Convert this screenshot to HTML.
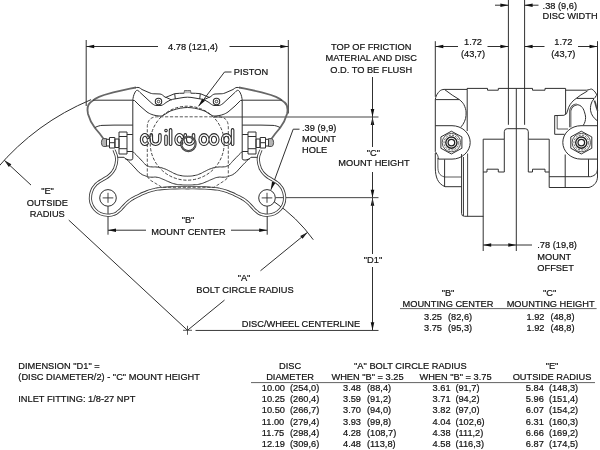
<!DOCTYPE html>
<html><head><meta charset="utf-8"><title>Caliper Drawing</title>
<style>
html,body{margin:0;padding:0;background:#fff;}
body{width:600px;height:450px;overflow:hidden;font-family:"Liberation Sans",sans-serif;}
svg{display:block;will-change:transform;}
svg text{font-family:"Liberation Sans",sans-serif;fill:#111;stroke:#111;stroke-width:0.2px;white-space:pre;}
</style></head><body>
<svg width="600" height="450" viewBox="0 0 600 450">
<rect x="0" y="0" width="600" height="450" fill="#ffffff"/>
<text x="18.30" y="368.90" text-anchor="start" font-size="9.25">DIMENSION &quot;D1&quot; =</text>
<text x="18.30" y="380.20" text-anchor="start" font-size="9.25">(DISC DIAMETER/2) - &quot;C&quot; MOUNT HEIGHT</text>
<text x="18.30" y="402.20" text-anchor="start" font-size="9.25">INLET FITTING: 1/8-27 NPT</text>
<text x="290.10" y="368.80" text-anchor="middle" font-size="9.25">DISC</text>
<text x="290.10" y="380.20" text-anchor="middle" font-size="9.25">DIAMETER</text>
<text x="410.40" y="368.80" text-anchor="middle" font-size="9.25">&quot;A&quot; BOLT CIRCLE RADIUS</text>
<text x="367.50" y="380.20" text-anchor="middle" font-size="9.25">WHEN &quot;B&quot; = 3.25</text>
<text x="455.50" y="380.20" text-anchor="middle" font-size="9.25">WHEN &quot;B&quot; = 3.75</text>
<text x="552.00" y="368.80" text-anchor="middle" font-size="9.25">&quot;E&quot;</text>
<text x="552.00" y="380.20" text-anchor="middle" font-size="9.25">OUTSIDE RADIUS</text>
<line x1="251.00" y1="382.60" x2="595.00" y2="382.60" stroke="#3a3a3a" stroke-width="0.8" />
<text x="261.80" y="390.90" text-anchor="start" font-size="9.25">10.00</text>
<text x="290.00" y="390.90" text-anchor="start" font-size="9.25">(254,0)</text>
<text x="343.00" y="390.90" text-anchor="start" font-size="9.25">3.48</text>
<text x="367.00" y="390.90" text-anchor="start" font-size="9.25">(88,4)</text>
<text x="432.60" y="390.90" text-anchor="start" font-size="9.25">3.61</text>
<text x="455.40" y="390.90" text-anchor="start" font-size="9.25">(91,7)</text>
<text x="525.80" y="390.90" text-anchor="start" font-size="9.25">5.84</text>
<text x="548.90" y="390.90" text-anchor="start" font-size="9.25">(148,3)</text>
<text x="261.80" y="402.12" text-anchor="start" font-size="9.25">10.25</text>
<text x="290.00" y="402.12" text-anchor="start" font-size="9.25">(260,4)</text>
<text x="343.00" y="402.12" text-anchor="start" font-size="9.25">3.59</text>
<text x="367.00" y="402.12" text-anchor="start" font-size="9.25">(91,2)</text>
<text x="432.60" y="402.12" text-anchor="start" font-size="9.25">3.71</text>
<text x="455.40" y="402.12" text-anchor="start" font-size="9.25">(94,2)</text>
<text x="525.80" y="402.12" text-anchor="start" font-size="9.25">5.96</text>
<text x="548.90" y="402.12" text-anchor="start" font-size="9.25">(151,4)</text>
<text x="261.80" y="413.34" text-anchor="start" font-size="9.25">10.50</text>
<text x="290.00" y="413.34" text-anchor="start" font-size="9.25">(266,7)</text>
<text x="343.00" y="413.34" text-anchor="start" font-size="9.25">3.70</text>
<text x="367.00" y="413.34" text-anchor="start" font-size="9.25">(94,0)</text>
<text x="432.60" y="413.34" text-anchor="start" font-size="9.25">3.82</text>
<text x="455.40" y="413.34" text-anchor="start" font-size="9.25">(97,0)</text>
<text x="525.80" y="413.34" text-anchor="start" font-size="9.25">6.07</text>
<text x="548.90" y="413.34" text-anchor="start" font-size="9.25">(154,2)</text>
<text x="261.80" y="424.56" text-anchor="start" font-size="9.25">11.00</text>
<text x="290.00" y="424.56" text-anchor="start" font-size="9.25">(279,4)</text>
<text x="343.00" y="424.56" text-anchor="start" font-size="9.25">3.93</text>
<text x="367.00" y="424.56" text-anchor="start" font-size="9.25">(99,8)</text>
<text x="432.60" y="424.56" text-anchor="start" font-size="9.25">4.04</text>
<text x="455.40" y="424.56" text-anchor="start" font-size="9.25">(102,6)</text>
<text x="525.80" y="424.56" text-anchor="start" font-size="9.25">6.31</text>
<text x="548.90" y="424.56" text-anchor="start" font-size="9.25">(160,3)</text>
<text x="261.80" y="435.78" text-anchor="start" font-size="9.25">11.75</text>
<text x="290.00" y="435.78" text-anchor="start" font-size="9.25">(298,4)</text>
<text x="343.00" y="435.78" text-anchor="start" font-size="9.25">4.28</text>
<text x="367.00" y="435.78" text-anchor="start" font-size="9.25">(108,7)</text>
<text x="432.60" y="435.78" text-anchor="start" font-size="9.25">4.38</text>
<text x="455.40" y="435.78" text-anchor="start" font-size="9.25">(111,2)</text>
<text x="525.80" y="435.78" text-anchor="start" font-size="9.25">6.66</text>
<text x="548.90" y="435.78" text-anchor="start" font-size="9.25">(169,2)</text>
<text x="261.80" y="447.00" text-anchor="start" font-size="9.25">12.19</text>
<text x="290.00" y="447.00" text-anchor="start" font-size="9.25">(309,6)</text>
<text x="343.00" y="447.00" text-anchor="start" font-size="9.25">4.48</text>
<text x="367.00" y="447.00" text-anchor="start" font-size="9.25">(113,8)</text>
<text x="432.60" y="447.00" text-anchor="start" font-size="9.25">4.58</text>
<text x="455.40" y="447.00" text-anchor="start" font-size="9.25">(116,3)</text>
<text x="525.80" y="447.00" text-anchor="start" font-size="9.25">6.87</text>
<text x="548.90" y="447.00" text-anchor="start" font-size="9.25">(174,5)</text>
<text x="448.00" y="296.00" text-anchor="middle" font-size="9.25">&quot;B&quot;</text>
<text x="448.00" y="307.00" text-anchor="middle" font-size="9.25">MOUNTING CENTER</text>
<text x="549.60" y="296.00" text-anchor="middle" font-size="9.25">&quot;C&quot;</text>
<text x="550.60" y="307.00" text-anchor="middle" font-size="9.25">MOUNTING HEIGHT</text>
<line x1="400.00" y1="308.60" x2="596.60" y2="308.60" stroke="#3a3a3a" stroke-width="0.8" />
<text x="424.00" y="320.30" text-anchor="start" font-size="9.25">3.25</text>
<text x="448.00" y="320.30" text-anchor="start" font-size="9.25">(82,6)</text>
<text x="526.50" y="320.30" text-anchor="start" font-size="9.25">1.92</text>
<text x="550.40" y="320.30" text-anchor="start" font-size="9.25">(48,8)</text>
<text x="424.00" y="331.10" text-anchor="start" font-size="9.25">3.75</text>
<text x="448.00" y="331.10" text-anchor="start" font-size="9.25">(95,3)</text>
<text x="526.50" y="331.10" text-anchor="start" font-size="9.25">1.92</text>
<text x="550.40" y="331.10" text-anchor="start" font-size="9.25">(48,8)</text>
<text x="193.00" y="49.80" text-anchor="middle" font-size="9.25">4.78 (121,4)</text>
<text x="233.80" y="75.20" text-anchor="start" font-size="9.25">PISTON</text>
<text x="371.20" y="50.00" text-anchor="middle" font-size="9.25">TOP OF FRICTION</text>
<text x="371.20" y="61.30" text-anchor="middle" font-size="9.25">MATERIAL AND DISC</text>
<text x="371.20" y="72.60" text-anchor="middle" font-size="9.25">O.D. TO BE FLUSH</text>
<text x="302.00" y="131.20" text-anchor="start" font-size="9.25">.39 (9,9)</text>
<text x="302.00" y="142.20" text-anchor="start" font-size="9.25">MOUNT</text>
<text x="302.00" y="153.20" text-anchor="start" font-size="9.25">HOLE</text>
<text x="373.30" y="155.50" text-anchor="middle" font-size="9.25">&quot;C&quot;</text>
<text x="374.00" y="166.40" text-anchor="middle" font-size="9.25">MOUNT HEIGHT</text>
<text x="47.50" y="194.20" text-anchor="middle" font-size="9.25">&quot;E&quot;</text>
<text x="47.30" y="206.00" text-anchor="middle" font-size="9.25">OUTSIDE</text>
<text x="47.30" y="216.80" text-anchor="middle" font-size="9.25">RADIUS</text>
<text x="188.00" y="223.30" text-anchor="middle" font-size="9.25">&quot;B&quot;</text>
<text x="188.50" y="234.50" text-anchor="middle" font-size="9.25">MOUNT CENTER</text>
<text x="244.00" y="281.00" text-anchor="middle" font-size="9.25">&quot;A&quot;</text>
<text x="245.00" y="293.30" text-anchor="middle" font-size="9.25">BOLT CIRCLE RADIUS</text>
<text x="373.00" y="262.50" text-anchor="middle" font-size="9.25">&quot;D1&quot;</text>
<text x="241.80" y="327.00" text-anchor="start" font-size="9.25">DISC/WHEEL CENTERLINE</text>
<text x="542.60" y="8.60" text-anchor="start" font-size="9.25">.38 (9,6)</text>
<text x="542.60" y="19.40" text-anchor="start" font-size="9.25">DISC WIDTH</text>
<text x="473.00" y="44.70" text-anchor="middle" font-size="9.25">1.72</text>
<text x="473.00" y="57.00" text-anchor="middle" font-size="9.25">(43,7)</text>
<text x="563.30" y="44.70" text-anchor="middle" font-size="9.25">1.72</text>
<text x="563.30" y="57.00" text-anchor="middle" font-size="9.25">(43,7)</text>
<text x="537.30" y="248.20" text-anchor="start" font-size="9.25">.78 (19,8)</text>
<text x="537.30" y="259.60" text-anchor="start" font-size="9.25">MOUNT</text>
<text x="537.30" y="270.80" text-anchor="start" font-size="9.25">OFFSET</text>
<line x1="86.20" y1="40.00" x2="86.20" y2="106.00" stroke="#303030" stroke-width="1.0" />
<line x1="288.30" y1="40.00" x2="288.30" y2="113.50" stroke="#303030" stroke-width="1.0" />
<line x1="86.20" y1="46.50" x2="158.00" y2="46.50" stroke="#303030" stroke-width="1.0" />
<line x1="229.50" y1="46.50" x2="288.30" y2="46.50" stroke="#303030" stroke-width="1.0" />
<polygon points="86.20,46.50 94.20,44.70 94.20,48.30" fill="#111"/>
<polygon points="288.30,46.50 280.30,48.30 280.30,44.70" fill="#111"/>
<path d="M231.5 72 L224.5 72 L198.5 106.3" stroke="#303030" stroke-width="1.0" fill="none" />
<polygon points="198.50,106.30 202.27,98.47 205.12,100.67" fill="#111"/>
<line x1="372.50" y1="77.00" x2="372.50" y2="117.00" stroke="#303030" stroke-width="1.0" />
<polygon points="372.50,117.00 370.70,109.00 374.30,109.00" fill="#111"/>
<polygon points="372.50,117.00 374.30,125.00 370.70,125.00" fill="#111"/>
<line x1="372.50" y1="117.00" x2="372.50" y2="147.00" stroke="#303030" stroke-width="1.0" />
<line x1="372.50" y1="172.00" x2="372.50" y2="197.80" stroke="#303030" stroke-width="1.0" />
<polygon points="372.50,197.80 370.70,189.80 374.30,189.80" fill="#111"/>
<polygon points="372.50,197.80 374.30,205.80 370.70,205.80" fill="#111"/>
<line x1="372.50" y1="197.80" x2="372.50" y2="254.00" stroke="#303030" stroke-width="1.0" />
<line x1="372.50" y1="267.00" x2="372.50" y2="330.30" stroke="#303030" stroke-width="1.0" />
<polygon points="372.50,330.30 370.70,322.30 374.30,322.30" fill="#111"/>
<line x1="213.50" y1="117.00" x2="378.50" y2="117.00" stroke="#3c3c3c" stroke-width="0.95" />
<line x1="275.60" y1="197.65" x2="378.50" y2="197.65" stroke="#444" stroke-width="1.0" />
<line x1="195.50" y1="330.45" x2="378.50" y2="330.45" stroke="#3a3a3a" stroke-width="1.0" />
<line x1="183.00" y1="330.30" x2="192.00" y2="330.30" stroke="#303030" stroke-width="0.8" />
<line x1="187.50" y1="325.80" x2="187.50" y2="334.80" stroke="#303030" stroke-width="0.8" />
<path d="M-2.89 168.27 A250 250 0 0 1 91.06 99.65" stroke="#303030" stroke-width="1.0" fill="none" />
<polygon points="4.26,160.24 11.34,164.36 8.89,167.00" fill="#111"/>
<line x1="4.26" y1="160.24" x2="31.01" y2="185.07" stroke="#303030" stroke-width="1.0" />
<line x1="68.76" y1="220.10" x2="187.50" y2="330.30" stroke="#303030" stroke-width="1.0" />
<path d="M274.05 201.72 A155 155 0 0 1 313.29 239.73" stroke="#303030" stroke-width="1.0" fill="none" />
<polygon points="307.61,232.32 302.54,238.77 300.27,235.98" fill="#111"/>
<line x1="307.61" y1="232.32" x2="260.49" y2="270.75" stroke="#303030" stroke-width="1.0" />
<line x1="224.54" y1="300.08" x2="187.50" y2="330.30" stroke="#303030" stroke-width="1.0" />
<line x1="108.00" y1="206.20" x2="108.00" y2="234.70" stroke="#303030" stroke-width="1.0" />
<line x1="267.20" y1="206.20" x2="267.20" y2="234.70" stroke="#303030" stroke-width="1.0" />
<line x1="108.00" y1="230.20" x2="146.00" y2="230.20" stroke="#303030" stroke-width="1.0" />
<line x1="231.00" y1="230.20" x2="267.20" y2="230.20" stroke="#303030" stroke-width="1.0" />
<polygon points="108.00,230.20 116.00,228.40 116.00,232.00" fill="#111"/>
<polygon points="267.20,230.20 259.20,232.00 259.20,228.40" fill="#111"/>
<path d="M299.5 129.2 L293.2 129.2 L270.9 189.8" stroke="#303030" stroke-width="1.0" fill="none" />
<polygon points="270.90,189.80 271.97,181.67 275.35,182.91" fill="#111"/>
<line x1="435.30" y1="41.20" x2="435.30" y2="96.80" stroke="#303030" stroke-width="1.0" />
<line x1="597.50" y1="41.20" x2="597.50" y2="99.00" stroke="#303030" stroke-width="1.0" />
<line x1="508.40" y1="0.00" x2="508.40" y2="124.80" stroke="#303030" stroke-width="1.0" />
<line x1="524.60" y1="0.00" x2="524.60" y2="124.80" stroke="#303030" stroke-width="1.0" />
<line x1="435.30" y1="46.50" x2="458.00" y2="46.50" stroke="#303030" stroke-width="1.0" />
<line x1="487.50" y1="46.50" x2="508.40" y2="46.50" stroke="#303030" stroke-width="1.0" />
<polygon points="435.30,46.50 443.30,44.70 443.30,48.30" fill="#111"/>
<polygon points="508.40,46.50 500.40,48.30 500.40,44.70" fill="#111"/>
<line x1="524.60" y1="46.50" x2="544.50" y2="46.50" stroke="#303030" stroke-width="1.0" />
<line x1="578.00" y1="46.50" x2="597.50" y2="46.50" stroke="#303030" stroke-width="1.0" />
<polygon points="524.60,46.50 532.60,44.70 532.60,48.30" fill="#111"/>
<polygon points="597.50,46.50 589.50,48.30 589.50,44.70" fill="#111"/>
<line x1="495.00" y1="5.20" x2="508.40" y2="5.20" stroke="#303030" stroke-width="1.0" />
<polygon points="508.40,5.20 500.40,7.00 500.40,3.40" fill="#111"/>
<line x1="524.60" y1="5.20" x2="538.50" y2="5.20" stroke="#303030" stroke-width="1.0" />
<polygon points="524.60,5.20 532.60,3.40 532.60,7.00" fill="#111"/>
<line x1="483.20" y1="216.00" x2="483.20" y2="251.00" stroke="#303030" stroke-width="1.0" />
<line x1="516.30" y1="88.30" x2="516.30" y2="251.00" stroke="#303030" stroke-width="1.0" />
<line x1="483.20" y1="245.00" x2="532.00" y2="245.00" stroke="#303030" stroke-width="1.0" />
<polygon points="483.20,245.00 491.20,243.20 491.20,246.80" fill="#111"/>
<polygon points="516.30,245.00 508.30,246.80 508.30,243.20" fill="#111"/>
<g>
<path d="M104 139.5 L100 134 L95 128 C92 124 89.5 119.5 88 114 C86.6 108 88 104.5 90.5 102.3 C93 100 96 98 99 96.8 L104 95 L113.3 92.3 L130 88.6 L136 87.5" stroke="#676767" stroke-width="1.8" fill="none" />
<path d="M135.5 87.7 C137 87.3 139 87.2 140.3 88.3 L142 89.5 L150 93 C152 93.8 153.5 93.8 155 93.8 L160 94 C161.5 94.2 162.3 94.8 163 95.5 L165.5 97.5 L174.6 93.7 C178 93.3 181 93.2 184.2 93.2 L184.5 90.6 L187.5 90.6" stroke="#303030" stroke-width="1.0" fill="none" />
<rect x="184.5" y="90.6" width="3.2" height="2.6" fill="#bbb"/>
<path d="M132.8 100.5 C133 97.5 133.7 94.8 134.7 93 C135.5 91.3 136.2 90.3 137.2 90.3 C138 90.3 138.8 91.2 139.6 92 L145 97 L152 103.5 C154 105 155 105.5 156 105.5 L161 105.5 C163 105 164.5 103.8 166 102.5 L170 100.2 C172 99.4 173.5 99.1 175 98.9 L184 97.4 L187.5 97.2" stroke="#303030" stroke-width="1.0" fill="none" />
<line x1="174.70" y1="93.80" x2="175.30" y2="99.00" stroke="#303030" stroke-width="1.0" />
<line x1="165.30" y1="97.00" x2="171.50" y2="99.90" stroke="#303030" stroke-width="1.0" />
<path d="M132.8 100.5 L134.5 100.5 L140 106 L147 112 C150 114 153 115.3 159 116 C161 116.1 162.5 115.8 163 115.5 L170 111.2 C174 109.6 179 108.2 184 107.7 L187.5 107.5" stroke="#303030" stroke-width="1.0" fill="none" />
<circle cx="158.50" cy="101.50" r="3.20" stroke="#303030" stroke-width="1.1" fill="none" />
<circle cx="158.50" cy="101.50" r="1.30" stroke="#303030" stroke-width="0.9" fill="none" />
<line x1="93.00" y1="100.20" x2="132.80" y2="100.20" stroke="#303030" stroke-width="1.0" />
<path d="M95 127.5 C98 126 100 125.5 102 125.4 L114 125.1 L132.8 125.1" stroke="#303030" stroke-width="1.0" fill="none" />
<path d="M132.8 100.5 L132.8 158.3 Q132.8 160 131 160 L129 160 L125 158.6" stroke="#303030" stroke-width="1.0" fill="none" />
<path d="M119 132 H127 V154 H119 Z" stroke="#303030" stroke-width="1.0" fill="none" />
<line x1="119.00" y1="136.50" x2="127.00" y2="136.50" stroke="#303030" stroke-width="1.0" />
<line x1="119.00" y1="148.70" x2="127.00" y2="148.70" stroke="#303030" stroke-width="1.0" />
<line x1="127.00" y1="134.50" x2="132.80" y2="134.50" stroke="#303030" stroke-width="1.0" />
<line x1="127.00" y1="151.50" x2="132.80" y2="151.50" stroke="#303030" stroke-width="1.0" />
<path d="M115 139 H119 V147.5 H115 Z" stroke="#303030" stroke-width="1.0" fill="none" />
<path d="M109.5 137.5 H114.8 V148 H109.5 Z" stroke="#303030" stroke-width="1.0" fill="none" />
<line x1="109.50" y1="142.70" x2="114.80" y2="142.70" stroke="#303030" stroke-width="1.0" />
<path d="M106.5 139.3 H109.5 V146 H106.5 Z" stroke="#303030" stroke-width="1.0" fill="none" />
<path d="M106.5 138.6 L103.5 138.6 Q101.4 138.8 101.4 142.5 Q101.4 146.3 103.5 146.5 L106.5 146.5 Z" stroke="#303030" stroke-width="0.8" fill="#b4b4b4" />
<path d="M114.00 150.00 C114.47 151.17 114.57 151.07 115.40 153.50 C116.23 155.93 116.17 154.47 116.50 157.30 C116.83 160.13 116.80 158.93 116.40 162.00 C116.00 165.07 116.23 163.73 115.30 166.50 C114.37 169.27 115.53 167.40 113.60 170.30 C111.67 173.20 112.93 172.17 109.50 175.20 C106.07 178.23 107.13 176.90 103.30 179.40 C99.47 181.90 101.00 180.37 98.00 182.70 C95.00 185.03 96.35 183.73 94.30 186.40 C92.25 189.07 93.08 187.77 91.85 190.70 C90.62 193.63 91.02 193.70 90.60 195.20 A17.35 17.35 0 0 0 108 215.25 L108.00 215.25 C109.90 214.93 110.13 215.65 113.70 214.30 C117.27 212.95 115.47 213.80 118.70 211.20 C121.93 208.60 120.07 209.80 123.40 206.50 C126.73 203.20 125.17 204.17 128.70 201.30 C132.23 198.43 130.90 199.72 134.00 197.90 C137.10 196.08 134.70 197.45 138.00 195.85 C141.30 194.25 138.97 195.05 143.90 193.10 C148.83 191.15 146.87 191.52 152.80 190.00 C158.73 188.48 154.30 189.27 161.70 188.55 C169.10 187.83 166.40 188.10 175.00 187.85 C183.60 187.60 183.33 187.82 187.50 187.80 " stroke="#3a3a3a" stroke-width="3.2" fill="none" stroke-linejoin="round"/>
<path d="M114.00 150.00 C114.47 151.17 114.57 151.07 115.40 153.50 C116.23 155.93 116.17 154.47 116.50 157.30 C116.83 160.13 116.80 158.93 116.40 162.00 C116.00 165.07 116.23 163.73 115.30 166.50 C114.37 169.27 115.53 167.40 113.60 170.30 C111.67 173.20 112.93 172.17 109.50 175.20 C106.07 178.23 107.13 176.90 103.30 179.40 C99.47 181.90 101.00 180.37 98.00 182.70 C95.00 185.03 96.35 183.73 94.30 186.40 C92.25 189.07 93.08 187.77 91.85 190.70 C90.62 193.63 91.02 193.70 90.60 195.20 A17.35 17.35 0 0 0 108 215.25 L108.00 215.25 C109.90 214.93 110.13 215.65 113.70 214.30 C117.27 212.95 115.47 213.80 118.70 211.20 C121.93 208.60 120.07 209.80 123.40 206.50 C126.73 203.20 125.17 204.17 128.70 201.30 C132.23 198.43 130.90 199.72 134.00 197.90 C137.10 196.08 134.70 197.45 138.00 195.85 C141.30 194.25 138.97 195.05 143.90 193.10 C148.83 191.15 146.87 191.52 152.80 190.00 C158.73 188.48 154.30 189.27 161.70 188.55 C169.10 187.83 166.40 188.10 175.00 187.85 C183.60 187.60 183.33 187.82 187.50 187.80 " stroke="#fff" stroke-width="1.5" fill="none" stroke-linejoin="round"/>
<path d="M132.80 151.50 C135.60 154.33 137.20 155.83 141.20 160.00 C145.20 164.17 142.43 161.93 144.80 164.00 C147.17 166.07 145.90 165.23 148.30 166.20 C150.70 167.17 149.03 166.60 152.00 166.90 C154.97 167.20 153.40 166.60 157.20 167.10 C161.00 167.60 158.93 166.90 163.40 168.40 C167.87 169.90 166.73 169.80 170.60 171.60 C174.47 173.40 171.53 172.47 175.00 173.80 C178.47 175.13 176.83 174.80 181.00 175.60 C185.17 176.40 185.33 176.00 187.50 176.20 " stroke="#303030" stroke-width="1.0" fill="none" />
<path d="M117.7 157.3 H124 L124.00 157.30 C124.90 158.10 124.70 157.90 126.70 159.70 C128.70 161.50 127.23 159.93 130.00 162.70 C132.77 165.47 131.57 164.47 135.00 168.00 C138.43 171.53 136.73 170.63 140.30 173.30 C143.87 175.97 143.03 174.80 145.70 176.00 C148.37 177.20 146.20 176.50 148.30 176.90 C150.40 177.30 149.03 177.07 152.00 177.20 C154.97 177.33 153.67 176.67 157.20 177.30 C160.73 177.93 158.73 177.60 162.60 179.10 C166.47 180.60 164.67 180.17 168.80 181.80 C172.93 183.43 170.93 183.00 175.00 184.00 C179.07 185.00 176.83 184.47 181.00 184.80 C185.17 185.13 185.33 184.93 187.50 185.00 " stroke="#303030" stroke-width="1.0" fill="none" />
<circle cx="108.00" cy="197.90" r="8.30" stroke="#303030" stroke-width="1.0" fill="none" />
<line x1="102.70" y1="197.90" x2="113.30" y2="197.90" stroke="#303030" stroke-width="0.9" />
<line x1="108.00" y1="192.80" x2="108.00" y2="202.80" stroke="#303030" stroke-width="0.9" />
</g>
<g transform="translate(375.00,0) scale(-1,1)">
<path d="M104 139.5 L100 134 L95 128 C92 124 89.5 119.5 88 114 C86.6 108 88 104.5 90.5 102.3 C93 100 96 98 99 96.8 L104 95 L113.3 92.3 L130 88.6 L136 87.5" stroke="#676767" stroke-width="1.8" fill="none" />
<path d="M135.5 87.7 C137 87.3 139 87.2 140.3 88.3 L142 89.5 L150 93 C152 93.8 153.5 93.8 155 93.8 L160 94 C161.5 94.2 162.3 94.8 163 95.5 L165.5 97.5 L174.6 93.7 C178 93.3 181 93.2 184.2 93.2 L184.5 90.6 L187.5 90.6" stroke="#303030" stroke-width="1.0" fill="none" />
<rect x="184.5" y="90.6" width="3.2" height="2.6" fill="#bbb"/>
<path d="M132.8 100.5 C133 97.5 133.7 94.8 134.7 93 C135.5 91.3 136.2 90.3 137.2 90.3 C138 90.3 138.8 91.2 139.6 92 L145 97 L152 103.5 C154 105 155 105.5 156 105.5 L161 105.5 C163 105 164.5 103.8 166 102.5 L170 100.2 C172 99.4 173.5 99.1 175 98.9 L184 97.4 L187.5 97.2" stroke="#303030" stroke-width="1.0" fill="none" />
<line x1="174.70" y1="93.80" x2="175.30" y2="99.00" stroke="#303030" stroke-width="1.0" />
<line x1="165.30" y1="97.00" x2="171.50" y2="99.90" stroke="#303030" stroke-width="1.0" />
<path d="M132.8 100.5 L134.5 100.5 L140 106 L147 112 C150 114 153 115.3 159 116 C161 116.1 162.5 115.8 163 115.5 L170 111.2 C174 109.6 179 108.2 184 107.7 L187.5 107.5" stroke="#303030" stroke-width="1.0" fill="none" />
<circle cx="158.50" cy="101.50" r="3.20" stroke="#303030" stroke-width="1.1" fill="none" />
<circle cx="158.50" cy="101.50" r="1.30" stroke="#303030" stroke-width="0.9" fill="none" />
<line x1="93.00" y1="100.20" x2="132.80" y2="100.20" stroke="#303030" stroke-width="1.0" />
<path d="M95 127.5 C98 126 100 125.5 102 125.4 L114 125.1 L132.8 125.1" stroke="#303030" stroke-width="1.0" fill="none" />
<path d="M132.8 100.5 L132.8 158.3 Q132.8 160 131 160 L129 160 L125 158.6" stroke="#303030" stroke-width="1.0" fill="none" />
<path d="M119 132 H127 V154 H119 Z" stroke="#303030" stroke-width="1.0" fill="none" />
<line x1="119.00" y1="136.50" x2="127.00" y2="136.50" stroke="#303030" stroke-width="1.0" />
<line x1="119.00" y1="148.70" x2="127.00" y2="148.70" stroke="#303030" stroke-width="1.0" />
<line x1="127.00" y1="134.50" x2="132.80" y2="134.50" stroke="#303030" stroke-width="1.0" />
<line x1="127.00" y1="151.50" x2="132.80" y2="151.50" stroke="#303030" stroke-width="1.0" />
<path d="M115 139 H119 V147.5 H115 Z" stroke="#303030" stroke-width="1.0" fill="none" />
<path d="M109.5 137.5 H114.8 V148 H109.5 Z" stroke="#303030" stroke-width="1.0" fill="none" />
<line x1="109.50" y1="142.70" x2="114.80" y2="142.70" stroke="#303030" stroke-width="1.0" />
<path d="M106.5 139.3 H109.5 V146 H106.5 Z" stroke="#303030" stroke-width="1.0" fill="none" />
<path d="M106.5 138.6 L103.5 138.6 Q101.4 138.8 101.4 142.5 Q101.4 146.3 103.5 146.5 L106.5 146.5 Z" stroke="#303030" stroke-width="0.8" fill="#b4b4b4" />
<path d="M114.00 150.00 C114.47 151.17 114.57 151.07 115.40 153.50 C116.23 155.93 116.17 154.47 116.50 157.30 C116.83 160.13 116.80 158.93 116.40 162.00 C116.00 165.07 116.23 163.73 115.30 166.50 C114.37 169.27 115.53 167.40 113.60 170.30 C111.67 173.20 112.93 172.17 109.50 175.20 C106.07 178.23 107.13 176.90 103.30 179.40 C99.47 181.90 101.00 180.37 98.00 182.70 C95.00 185.03 96.35 183.73 94.30 186.40 C92.25 189.07 93.08 187.77 91.85 190.70 C90.62 193.63 91.02 193.70 90.60 195.20 A17.35 17.35 0 0 0 108 215.25 L108.00 215.25 C109.90 214.93 110.13 215.65 113.70 214.30 C117.27 212.95 115.47 213.80 118.70 211.20 C121.93 208.60 120.07 209.80 123.40 206.50 C126.73 203.20 125.17 204.17 128.70 201.30 C132.23 198.43 130.90 199.72 134.00 197.90 C137.10 196.08 134.70 197.45 138.00 195.85 C141.30 194.25 138.97 195.05 143.90 193.10 C148.83 191.15 146.87 191.52 152.80 190.00 C158.73 188.48 154.30 189.27 161.70 188.55 C169.10 187.83 166.40 188.10 175.00 187.85 C183.60 187.60 183.33 187.82 187.50 187.80 " stroke="#3a3a3a" stroke-width="3.2" fill="none" stroke-linejoin="round"/>
<path d="M114.00 150.00 C114.47 151.17 114.57 151.07 115.40 153.50 C116.23 155.93 116.17 154.47 116.50 157.30 C116.83 160.13 116.80 158.93 116.40 162.00 C116.00 165.07 116.23 163.73 115.30 166.50 C114.37 169.27 115.53 167.40 113.60 170.30 C111.67 173.20 112.93 172.17 109.50 175.20 C106.07 178.23 107.13 176.90 103.30 179.40 C99.47 181.90 101.00 180.37 98.00 182.70 C95.00 185.03 96.35 183.73 94.30 186.40 C92.25 189.07 93.08 187.77 91.85 190.70 C90.62 193.63 91.02 193.70 90.60 195.20 A17.35 17.35 0 0 0 108 215.25 L108.00 215.25 C109.90 214.93 110.13 215.65 113.70 214.30 C117.27 212.95 115.47 213.80 118.70 211.20 C121.93 208.60 120.07 209.80 123.40 206.50 C126.73 203.20 125.17 204.17 128.70 201.30 C132.23 198.43 130.90 199.72 134.00 197.90 C137.10 196.08 134.70 197.45 138.00 195.85 C141.30 194.25 138.97 195.05 143.90 193.10 C148.83 191.15 146.87 191.52 152.80 190.00 C158.73 188.48 154.30 189.27 161.70 188.55 C169.10 187.83 166.40 188.10 175.00 187.85 C183.60 187.60 183.33 187.82 187.50 187.80 " stroke="#fff" stroke-width="1.5" fill="none" stroke-linejoin="round"/>
<path d="M132.80 151.50 C135.60 154.33 137.20 155.83 141.20 160.00 C145.20 164.17 142.43 161.93 144.80 164.00 C147.17 166.07 145.90 165.23 148.30 166.20 C150.70 167.17 149.03 166.60 152.00 166.90 C154.97 167.20 153.40 166.60 157.20 167.10 C161.00 167.60 158.93 166.90 163.40 168.40 C167.87 169.90 166.73 169.80 170.60 171.60 C174.47 173.40 171.53 172.47 175.00 173.80 C178.47 175.13 176.83 174.80 181.00 175.60 C185.17 176.40 185.33 176.00 187.50 176.20 " stroke="#303030" stroke-width="1.0" fill="none" />
<path d="M117.7 157.3 H124 L124.00 157.30 C124.90 158.10 124.70 157.90 126.70 159.70 C128.70 161.50 127.23 159.93 130.00 162.70 C132.77 165.47 131.57 164.47 135.00 168.00 C138.43 171.53 136.73 170.63 140.30 173.30 C143.87 175.97 143.03 174.80 145.70 176.00 C148.37 177.20 146.20 176.50 148.30 176.90 C150.40 177.30 149.03 177.07 152.00 177.20 C154.97 177.33 153.67 176.67 157.20 177.30 C160.73 177.93 158.73 177.60 162.60 179.10 C166.47 180.60 164.67 180.17 168.80 181.80 C172.93 183.43 170.93 183.00 175.00 184.00 C179.07 185.00 176.83 184.47 181.00 184.80 C185.17 185.13 185.33 184.93 187.50 185.00 " stroke="#303030" stroke-width="1.0" fill="none" />
<circle cx="108.00" cy="197.90" r="8.30" stroke="#303030" stroke-width="1.0" fill="none" />
<line x1="102.70" y1="197.90" x2="113.30" y2="197.90" stroke="#303030" stroke-width="0.9" />
<line x1="108.00" y1="192.80" x2="108.00" y2="202.80" stroke="#303030" stroke-width="0.9" />
</g>
<path d="M147.86 137.39 A3.35 4.70 0 1 0 147.14 143.09 M151.30 134.90 L151.30 140.00 A4.3 4.30 0 0 0 159.90 140.00 L159.90 134.90 M166 136.20 L166 144.30 M166 130.50 L166 130.60 M170.6 129.90 L170.6 144.30 M182.36 137.39 A3.35 4.70 0 1 0 181.64 143.09 M185.30 134.90 L185.30 140.00 A4.1 4.30 0 0 0 193.50 140.00 L193.50 134.90 M200.20 139.60 A3.8 4.70 0 1 0 207.80 139.60 A3.8 4.70 0 1 0 200.20 139.60 Z M210.20 139.60 A3.8 4.70 0 1 0 217.80 139.60 A3.8 4.70 0 1 0 210.20 139.60 Z M222.60 139.60 A3.8 4.70 0 1 0 230.20 139.60 A3.8 4.70 0 1 0 222.60 139.60 Z M232.6 129.90 L232.6 144.30" stroke="#2a2a2a" stroke-width="3.6" fill="none" stroke-linecap="round" stroke-linejoin="round"/>
<path d="M147.86 137.39 A3.35 4.70 0 1 0 147.14 143.09 M151.30 134.90 L151.30 140.00 A4.3 4.30 0 0 0 159.90 140.00 L159.90 134.90 M166 136.20 L166 144.30 M166 130.50 L166 130.60 M170.6 129.90 L170.6 144.30 M182.36 137.39 A3.35 4.70 0 1 0 181.64 143.09 M185.30 134.90 L185.30 140.00 A4.1 4.30 0 0 0 193.50 140.00 L193.50 134.90 M200.20 139.60 A3.8 4.70 0 1 0 207.80 139.60 A3.8 4.70 0 1 0 200.20 139.60 Z M210.20 139.60 A3.8 4.70 0 1 0 217.80 139.60 A3.8 4.70 0 1 0 210.20 139.60 Z M222.60 139.60 A3.8 4.70 0 1 0 230.20 139.60 A3.8 4.70 0 1 0 222.60 139.60 Z M232.6 129.90 L232.6 144.30" stroke="#fff" stroke-width="1.5" fill="none" stroke-linecap="round" stroke-linejoin="round"/>
<circle cx="188.40" cy="143.90" r="7.20" stroke="#333" stroke-width="2.1" fill="none" />
<circle cx="188.40" cy="143.90" r="7.20" stroke="#aaa" stroke-width="0.5" fill="none" />
<circle cx="187.20" cy="143.20" r="37.00" stroke="#303030" stroke-width="0.9" fill="none" stroke-dasharray="3.2 1.7"/>
<path d="M147.3 176.5 L147.3 127 Q147.3 116.8 157.5 116.8 L218 116.8 Q228.3 116.8 228.3 127 L228.3 176.5" stroke="#303030" stroke-width="0.8" fill="none" stroke-dasharray="3.2 1.7"/>
<path d="M147.3 176.5 L150 180 L162 187.3 L214 187.3 L225.5 180 L228.3 176.5" stroke="#303030" stroke-width="0.8" fill="none" stroke-dasharray="3.2 1.7"/>
<path d="M444.4 89.4 H467 M467 88.4 H487.5 V90.2 H498.3 V88.4 H532.5 V90.2 H545 V88.4 H565.6" stroke="#303030" stroke-width="1.0" fill="none" />
<line x1="467.20" y1="88.40" x2="467.20" y2="131.00" stroke="#303030" stroke-width="1.0" />
<line x1="467.60" y1="153.50" x2="467.60" y2="216.30" stroke="#303030" stroke-width="0.9" />
<line x1="565.60" y1="88.40" x2="565.60" y2="114.00" stroke="#303030" stroke-width="1.0" />
<path d="M435.3 99.5 C435.8 96.5 436.5 95 437.2 94.2 C438.5 92 440 90.5 441.3 90 C442.5 89.5 443.5 89.4 444.4 89.4" stroke="#303030" stroke-width="1.0" fill="none" />
<line x1="435.30" y1="99.50" x2="435.30" y2="151.50" stroke="#303030" stroke-width="1.0" />
<line x1="435.30" y1="99.60" x2="459.40" y2="99.60" stroke="#303030" stroke-width="1.0" />
<path d="M444.4 89.4 L452.2 95.1 L459.4 99.6 C461.5 101.3 463 103 463.9 104.6 C465.3 107.5 466 110 466.1 112 C466.2 114.5 466 116.5 465.6 118.4 C465 120.8 464 122.8 462.8 124.6 L461 126.9" stroke="#303030" stroke-width="1.0" fill="none" />
<path d="M435.3 125.7 H452 A18.2 16.7 0 0 1 452 159.1 H438.4 C438.2 157 437.8 155.5 437.2 154.6 C436.6 153.5 435.8 152.5 435.3 151.5" stroke="#303030" stroke-width="1.0" fill="none" />
<polygon points="451.40,131.23 461.90,136.92 461.90,148.28 451.40,153.97 440.90,148.28 440.90,136.92" fill="#fff" stroke="#303030" stroke-width="1"/>
<circle cx="451.40" cy="142.60" r="9.20" stroke="#303030" stroke-width="0.8" fill="none" />
<circle cx="451.40" cy="142.60" r="7.40" stroke="#303030" stroke-width="0.8" fill="none" stroke-dasharray="2 1.2"/>
<circle cx="451.40" cy="142.60" r="5.60" stroke="#222" stroke-width="1.4" fill="none" />
<circle cx="451.40" cy="142.60" r="3.30" stroke="#222" stroke-width="1.3" fill="none" />
<path d="M435.3 153 V168 C435.5 177 437.5 183.5 445 186.7 H461.6" stroke="#303030" stroke-width="1.0" fill="none" />
<path d="M437.9 158 V167 C438 172 439 175.5 444.6 177 H461.6" stroke="#303030" stroke-width="0.8" fill="none" />
<line x1="444.60" y1="159.40" x2="444.60" y2="186.70" stroke="#303030" stroke-width="1.0" />
<path d="M461.6 154 V213.5 Q461.6 216.3 464.6 216.3 H483.2 V139.2" stroke="#303030" stroke-width="1.0" fill="none" />
<line x1="463.50" y1="157.00" x2="463.50" y2="215.80" stroke="#303030" stroke-width="0.9" />
<path d="M483.2 139.2 H504.3 V131.7 Q504.3 128.7 507.3 128.7 H525.3 Q528.3 128.7 528.3 131.7 V139.2 H549.2 V187.5" stroke="#303030" stroke-width="1.0" fill="none" />
<path d="M504.3 139.2 V172 H498.3 V169.2 H487 V172 H483.2" stroke="#303030" stroke-width="1.0" fill="none" />
<path d="M528.3 139.2 V172 H532.5 V169.2 H545 V172 H549.2" stroke="#303030" stroke-width="1.0" fill="none" />
<line x1="549.20" y1="176.70" x2="590.50" y2="176.70" stroke="#303030" stroke-width="1.0" />
<line x1="549.20" y1="187.50" x2="589.00" y2="187.50" stroke="#303030" stroke-width="1.0" />
<line x1="565.20" y1="154.50" x2="565.20" y2="187.50" stroke="#303030" stroke-width="1.0" />
<line x1="588.50" y1="159.20" x2="588.50" y2="176.70" stroke="#303030" stroke-width="1.0" />
<path d="M597.5 99 V168 C597.5 172.5 596 175.5 590.5 176.7" stroke="#303030" stroke-width="1.0" fill="none" />
<path d="M597.5 168 V177 C597.3 182 594.3 186 589 187.5" stroke="#303030" stroke-width="1.0" fill="none" />
<path d="M597.5 125.7 H581 A18.2 16.7 0 0 0 581 159.1 H597.5" stroke="#303030" stroke-width="1.0" fill="none" />
<polygon points="581.30,131.23 591.80,136.92 591.80,148.28 581.30,153.97 570.80,148.28 570.80,136.92" fill="#fff" stroke="#303030" stroke-width="1"/>
<circle cx="581.30" cy="142.60" r="9.20" stroke="#303030" stroke-width="0.8" fill="none" />
<circle cx="581.30" cy="142.60" r="7.40" stroke="#303030" stroke-width="0.8" fill="none" stroke-dasharray="2 1.2"/>
<circle cx="581.30" cy="142.60" r="5.60" stroke="#222" stroke-width="1.4" fill="none" />
<circle cx="581.30" cy="142.60" r="3.30" stroke="#222" stroke-width="1.3" fill="none" />
<path d="M565.6 90.2 H586.7 L589.3 89.6 C590.7 89 591.5 88.9 592.1 89.3 C594.3 90.6 596.2 93 597.4 96.5" stroke="#303030" stroke-width="1.0" fill="none" />
<path d="M587.5 91 L580.8 95 L574.1 100 C572.3 101.6 571 103.1 570.1 104.6 C568.9 106.4 568.2 108.2 567.8 110 L566.5 113.8 L563.9 115.3 L554.4 115.6" stroke="#303030" stroke-width="1.0" fill="none" />
<path d="M576.7 98.4 H594.2 C595.1 97.8 595.7 96.8 596 95.7" stroke="#303030" stroke-width="1.0" fill="none" />
<path d="M570.2 127.3 V110.7 C570.8 108.6 571.5 107.2 572.6 106.2 C573.8 105.1 575.2 104.6 576.7 104.6" stroke="#3a3a3a" stroke-width="2.2" fill="none" stroke-linejoin="round"/>
<path d="M570.2 127.3 V110.7 C570.8 108.6 571.5 107.2 572.6 106.2 C573.8 105.1 575.2 104.6 576.7 104.6" stroke="#fff" stroke-width="0.6" fill="none" stroke-linejoin="round"/>
<path d="M576.7 104.6 C578.5 104.7 579.9 105.2 581.1 106.2 C582.8 107.8 583.7 109.5 584.4 111.8 C585.2 114 585.5 115.7 585.6 117.3 C585.6 120.5 584.8 123 583.3 125.3" stroke="#303030" stroke-width="1.0" fill="none" />
<path d="M593.9 99 C592.5 100.5 591.6 102 591.1 104 C590.4 106.5 590.3 108.5 590.6 110.7 C591 113 591.7 114.6 592.8 116.2 C594 118 595.5 119.5 597.2 120.7" stroke="#303030" stroke-width="1.0" fill="none" />
<path d="M594.4 100.7 C595.3 102.5 595.7 104.3 596.1 106.2 L597.6 110.7" stroke="#444" stroke-width="1.6" fill="none" />
<path d="M554.7 115.7 V134.3 H564.5" stroke="#303030" stroke-width="1.0" fill="none" />
<path d="M557.2 115.7 V129 H568" stroke="#303030" stroke-width="0.8" fill="none" />
</svg>
</body></html>
